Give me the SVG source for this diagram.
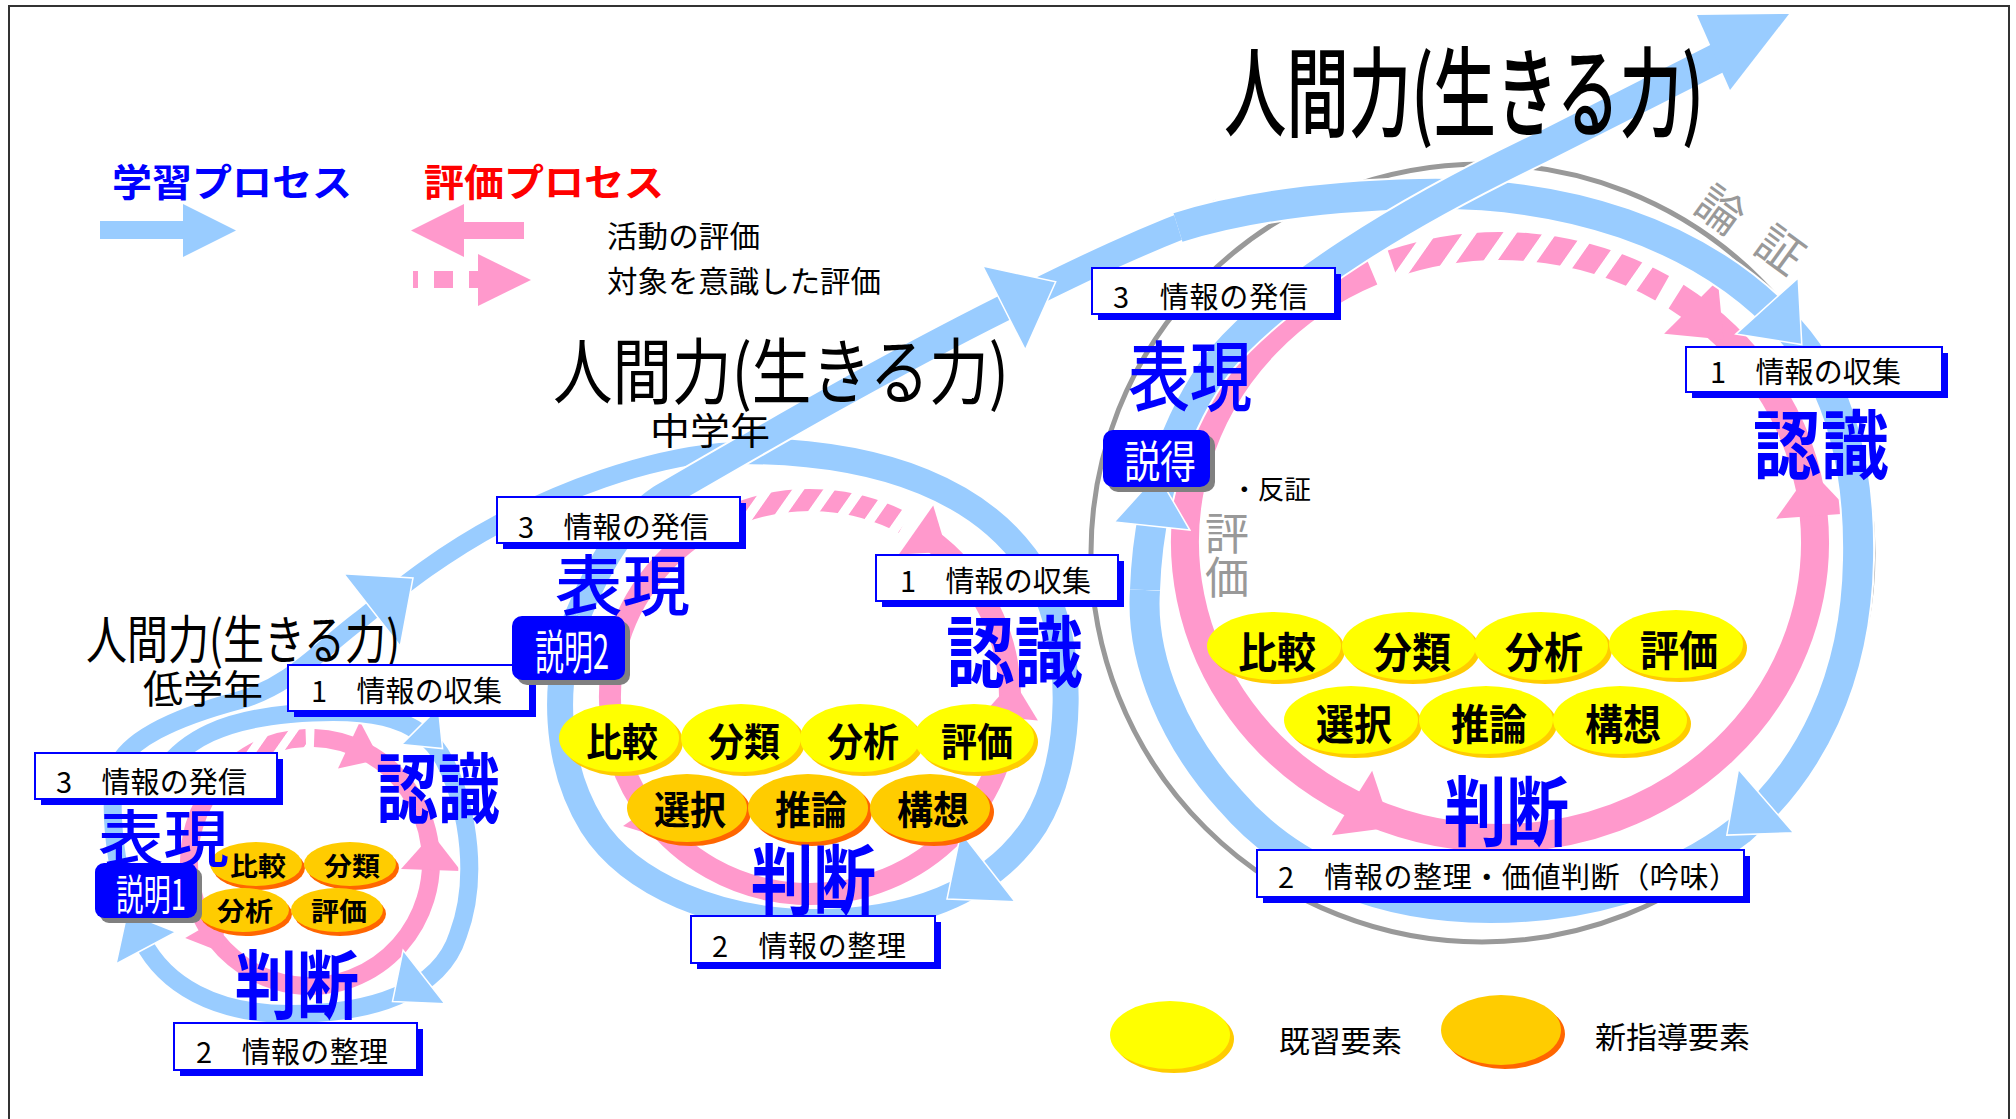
<svg xmlns="http://www.w3.org/2000/svg" width="2016" height="1119" viewBox="0 0 2016 1119">
<style>
text{font-family:"Noto Sans CJK JP","Noto Sans CJK SC",sans-serif;dominant-baseline:central}
.bw{fill:none;stroke:#fff;stroke-linejoin:round}
.bl{fill:none;stroke:#99CCFF;stroke-linejoin:round}
.pk{fill:none;stroke:#FF99CC}
.ahb{fill:#99CCFF;stroke:#fff;stroke-width:1.5;stroke-linejoin:miter}
.ahp{fill:#FF99CC}
.box{fill:#fff;stroke:#0000FF;stroke-width:2}
.sh{fill:#0000FF}
.bt{font-size:29px;fill:#000}
.lbl{fill:#0000FF}
.y1{fill:#FFFF00}.y2{fill:#FFCC00}.o1{fill:#FFCC00}.o2{fill:#FF6600}
.et{fill:#000;font-weight:600;text-anchor:middle}
.sb{fill:#0000FF}.sbs{fill:#808080}
.sbt{fill:#fff;text-anchor:middle}
.gr{fill:#999999}
</style>
<defs>
<polygon id="ah" points="0,-1 1,0 0,1"/>
<pattern id="stL" width="40" height="10" patternUnits="userSpaceOnUse" patternTransform="skewX(-35)"><rect width="26" height="10" fill="#FF99CC"/></pattern>
<pattern id="stM" width="31" height="10" patternUnits="userSpaceOnUse" patternTransform="skewX(-35)"><rect width="19" height="10" fill="#FF99CC"/></pattern>
<pattern id="stS" width="27" height="10" patternUnits="userSpaceOnUse" patternTransform="skewX(-35)"><rect width="17" height="10" fill="#FF99CC"/></pattern>
</defs>
<path d="M9 1119 V6 H2009 V1119" fill="none" stroke="#333" stroke-width="2"/>

<g id="connectors">
  <ellipse id="ring-grey" cx="1482" cy="553" rx="391" ry="389" fill="none" stroke="#999999" stroke-width="5"/>
  <g id="pink-small">
    <path class="pk" stroke-width="18" d="M 314.2 738.1 A 121 124 0 1 1 229.0 769.9"/>
    <path fill="none" stroke="url(#stS)" stroke-width="18" d="M 235.5 764.3 A 121 124 0 0 1 305.8 738.1"/>
    <use href="#ah" class="ahp" transform="translate(349 745) rotate(25) scale(34 26)"/>
    <use href="#ah" class="ahp" transform="translate(431 870) rotate(-88) scale(36 30)"/>
    <use href="#ah" class="ahp" transform="translate(206 926) rotate(60) scale(30 24)"/>
  </g>
  <g id="pink-middle">
    <path class="pk" stroke-width="22" d="M 921.8 533.7 A 200 197 0 1 1 719.2 521.5"/>
    <path fill="none" stroke="url(#stM)" stroke-width="22" d="M 741.6 511.9 A 200 197 0 0 1 903.9 523.1"/>
    <use href="#ah" class="ahp" transform="translate(916 530) rotate(35) scale(38 30)"/>
    <use href="#ah" class="ahp" transform="translate(1010 718) rotate(-85) scale(38 28)"/>
    <use href="#ah" class="ahp" transform="translate(646 810) rotate(55) scale(36 28)"/>
  </g>
  <g id="pink-large">
    <path class="pk" stroke-width="28" d="M 1676.1 296.6 A 315 296 0 1 1 1371.9 271.6"/>
    <path fill="none" stroke="url(#stL)" stroke-width="28" d="M 1392.3 263.8 A 315 296 0 0 1 1662.2 288.3"/>
    <use href="#ah" class="ahp" transform="translate(1691 307) rotate(45) scale(46 38)"/>
    <use href="#ah" class="ahp" transform="translate(1814 516) rotate(-94) scale(46 38)"/>
    <use href="#ah" class="ahp" transform="translate(1352 803) rotate(32) scale(46 38)"/>
  </g>
  <g id="blue-path">
    <path class="bw" stroke-width="22" d="M 160 775 C 185 738, 225 720, 290 714 C 360 708, 420 712, 445 762 C 470 812, 478 882, 458 935 C 440 992, 370 1014, 290 1014 C 215 1014, 165 985, 142 940 C 118 892, 108 820, 115 775"/>
    <path class="bl" stroke-width="18" d="M 160 775 C 185 738, 225 720, 290 714 C 360 708, 420 712, 445 762 C 470 812, 478 882, 458 935 C 440 992, 370 1014, 290 1014 C 215 1014, 165 985, 142 940 C 118 892, 108 820, 115 775"/>
    <path class="bw" stroke-width="22" d="M 115 775 C 120 740, 180 716, 240 700 C 290 686, 320 650, 360 620 C 400 588, 440 555, 500 523 C 560 492, 640 460, 720 452 C 760 449, 790 449, 810 450"/>
    <path class="bl" stroke-width="18" d="M 115 775 C 120 740, 180 716, 240 700 C 290 686, 320 650, 360 620 C 400 588, 440 555, 500 523 C 560 492, 640 460, 720 452 C 760 449, 790 449, 810 450"/>
    <path class="bw" stroke-width="30" d="M 740 451 C 880 451, 990 490, 1040 580 C 1075 645, 1075 760, 1035 825 C 990 895, 905 922, 815 922 C 720 922, 630 885, 592 825 C 555 765, 550 680, 578 615"/>
    <path class="bl" stroke-width="26" d="M 740 451 C 880 451, 990 490, 1040 580 C 1075 645, 1075 760, 1035 825 C 990 895, 905 922, 815 922 C 720 922, 630 885, 592 825 C 555 765, 550 680, 578 615"/>
    <path class="bw" stroke-width="30" d="M 578 615 C 598 568, 620 525, 660 498 C 760 440, 880 370, 1004 308 C 1080 270, 1150 236, 1220 212"/>
    <path class="bl" stroke-width="26" d="M 578 615 C 598 568, 620 525, 660 498 C 760 440, 880 370, 1004 308 C 1080 270, 1150 236, 1220 212"/>
    <path class="bw" stroke-width="34" d="M 1178 227.5 C 1250 205, 1330 196, 1420 194 C 1560 191, 1700 230, 1790 330 C 1840 385, 1860 470, 1858 560 C 1856 680, 1810 770, 1740 830 C 1670 885, 1580 908, 1490 908 C 1380 908, 1290 870, 1230 800 C 1175 740, 1140 660, 1145 590"/>
    <path class="bl" stroke-width="30" d="M 1178 227.5 C 1250 205, 1330 196, 1420 194 C 1560 191, 1700 230, 1790 330 C 1840 385, 1860 470, 1858 560 C 1856 680, 1810 770, 1740 830 C 1670 885, 1580 908, 1490 908 C 1380 908, 1290 870, 1230 800 C 1175 740, 1140 660, 1145 590"/>
    <path class="bw" stroke-width="34" d="M 1145 590 C 1148 500, 1175 420, 1220 360 C 1280 290, 1400 215, 1540 148 L 1718 58"/>
    <path class="bl" stroke-width="30" d="M 1145 590 C 1148 500, 1175 420, 1220 360 C 1280 290, 1400 215, 1540 148 L 1718 58"/>
    <polygon class="ahb" points="403.1,950.2 392.5,1001.6 444.9,1003.8"/>
    <polygon class="ahb" points="176,932 127.2,912.7 116,964"/>
    <polygon class="ahb" points="401.6,744.4 442.6,748.6 438.4,707.6"/>
    <polygon class="ahb" points="400.3,646.2 413,578 343.7,573.8"/>
    <polygon class="ahb" points="960.9,832.3 947,899 1015.1,901.7"/>
    <polygon class="ahb" points="1025.3,349.9 1055.7,281.7 982.7,266.1"/>
    <polygon class="ahb" points="1189.8,530 1157.4,474.3 1114.2,522"/>
    <polygon class="ahb" points="1735.8,334.1 1801.8,344.6 1798.2,277.9"/>
    <polygon class="ahb" points="1738.4,769.3 1726.8,835.1 1793.6,832.7"/>
    <polygon points="1697,15 1789,14 1730,90" fill="#99CCFF"/>
  </g>
</g>

<g id="elements-small">
  <g id="s-hikaku"><ellipse class="o2" cx="259" cy="868" rx="46" ry="22"/><ellipse class="o1" cx="256" cy="864" rx="46" ry="22"/><text class="et" x="258" y="864" font-size="26" textLength="56" lengthAdjust="spacingAndGlyphs">比較</text></g>
  <g id="s-bunrui"><ellipse class="o2" cx="353" cy="868" rx="46" ry="22"/><ellipse class="o1" cx="350" cy="864" rx="46" ry="22"/><text class="et" x="352" y="864" font-size="26" textLength="56" lengthAdjust="spacingAndGlyphs">分類</text></g>
  <g id="s-bunseki"><ellipse class="o2" cx="246" cy="914" rx="46" ry="22"/><ellipse class="o1" cx="243" cy="910" rx="46" ry="22"/><text class="et" x="245" y="909" font-size="26" textLength="56" lengthAdjust="spacingAndGlyphs">分析</text></g>
  <g id="s-hyoka"><ellipse class="o2" cx="340" cy="914" rx="46" ry="22"/><ellipse class="o1" cx="337" cy="910" rx="46" ry="22"/><text class="et" x="339" y="909" font-size="26" textLength="56" lengthAdjust="spacingAndGlyphs">評価</text></g>
</g>
<g id="elements-middle">
  <g id="m-hikaku"><ellipse class="y2" cx="623" cy="742" rx="60" ry="34"/><ellipse class="y1" cx="619" cy="738" rx="60" ry="34"/><text class="et" x="622" y="739" font-size="39" textLength="72" lengthAdjust="spacingAndGlyphs">比較</text></g>
  <g id="m-bunrui"><ellipse class="y2" cx="745" cy="742" rx="60" ry="34"/><ellipse class="y1" cx="741" cy="738" rx="60" ry="34"/><text class="et" x="744" y="739" font-size="39" textLength="72" lengthAdjust="spacingAndGlyphs">分類</text></g>
  <g id="m-bunseki"><ellipse class="y2" cx="864" cy="742" rx="60" ry="34"/><ellipse class="y1" cx="860" cy="738" rx="60" ry="34"/><text class="et" x="863" y="739" font-size="39" textLength="72" lengthAdjust="spacingAndGlyphs">分析</text></g>
  <g id="m-hyoka"><ellipse class="y2" cx="978" cy="742" rx="60" ry="34"/><ellipse class="y1" cx="974" cy="738" rx="60" ry="34"/><text class="et" x="977" y="739" font-size="39" textLength="72" lengthAdjust="spacingAndGlyphs">評価</text></g>
  <g id="m-sentaku"><ellipse class="o2" cx="691" cy="812" rx="60" ry="34"/><ellipse class="o1" cx="687" cy="808" rx="60" ry="34"/><text class="et" x="690" y="807" font-size="39" textLength="72" lengthAdjust="spacingAndGlyphs">選択</text></g>
  <g id="m-suiron"><ellipse class="o2" cx="812" cy="812" rx="60" ry="34"/><ellipse class="o1" cx="808" cy="808" rx="60" ry="34"/><text class="et" x="811" y="807" font-size="39" textLength="72" lengthAdjust="spacingAndGlyphs">推論</text></g>
  <g id="m-koso"><ellipse class="o2" cx="934" cy="812" rx="60" ry="34"/><ellipse class="o1" cx="930" cy="808" rx="60" ry="34"/><text class="et" x="933" y="807" font-size="39" textLength="72" lengthAdjust="spacingAndGlyphs">構想</text></g>
</g>
<g id="elements-large">
  <g id="l-hikaku"><ellipse class="y2" cx="1278" cy="650" rx="67" ry="34"/><ellipse class="y1" cx="1274" cy="646" rx="67" ry="34"/><text class="et" x="1277" y="649" font-size="42" textLength="78" lengthAdjust="spacingAndGlyphs">比較</text></g>
  <g id="l-bunrui"><ellipse class="y2" cx="1413" cy="650" rx="67" ry="34"/><ellipse class="y1" cx="1409" cy="646" rx="67" ry="34"/><text class="et" x="1412" y="649" font-size="42" textLength="78" lengthAdjust="spacingAndGlyphs">分類</text></g>
  <g id="l-bunseki"><ellipse class="y2" cx="1545" cy="650" rx="67" ry="34"/><ellipse class="y1" cx="1541" cy="646" rx="67" ry="34"/><text class="et" x="1544" y="649" font-size="42" textLength="78" lengthAdjust="spacingAndGlyphs">分析</text></g>
  <g id="l-hyoka"><ellipse class="y2" cx="1680" cy="648" rx="67" ry="34"/><ellipse class="y1" cx="1676" cy="644" rx="67" ry="34"/><text class="et" x="1679" y="647" font-size="42" textLength="78" lengthAdjust="spacingAndGlyphs">評価</text></g>
  <g id="l-sentaku"><ellipse class="y2" cx="1355" cy="724" rx="67" ry="34"/><ellipse class="y1" cx="1351" cy="720" rx="67" ry="34"/><text class="et" x="1354" y="721" font-size="42" textLength="76" lengthAdjust="spacingAndGlyphs">選択</text></g>
  <g id="l-suiron"><ellipse class="y2" cx="1490" cy="724" rx="67" ry="34"/><ellipse class="y1" cx="1486" cy="720" rx="67" ry="34"/><text class="et" x="1489" y="721" font-size="42" textLength="76" lengthAdjust="spacingAndGlyphs">推論</text></g>
  <g id="l-koso"><ellipse class="y2" cx="1624" cy="724" rx="67" ry="34"/><ellipse class="y1" cx="1620" cy="720" rx="67" ry="34"/><text class="et" x="1623" y="721" font-size="42" textLength="76" lengthAdjust="spacingAndGlyphs">構想</text></g>
</g>

<g id="stage-labels">
  <text class="lbl" x="98" y="835" font-size="62" font-weight="500" textLength="131" lengthAdjust="spacingAndGlyphs">表現</text>
  <text class="lbl" x="376" y="784" font-size="76" font-weight="bold" textLength="124" lengthAdjust="spacingAndGlyphs">認識</text>
  <text class="lbl" x="235" y="980" font-size="75" font-weight="bold" textLength="124" lengthAdjust="spacingAndGlyphs">判断</text>
  <text class="lbl" x="555" y="581" font-size="66" font-weight="500" textLength="135" lengthAdjust="spacingAndGlyphs">表現</text>
  <text class="lbl" x="946" y="647" font-size="77" font-weight="bold" textLength="137" lengthAdjust="spacingAndGlyphs">認識</text>
  <text class="lbl" x="751" y="875" font-size="77" font-weight="bold" textLength="125" lengthAdjust="spacingAndGlyphs">判断</text>
  <text class="lbl" x="1128" y="372" font-size="76" font-weight="500" textLength="124" lengthAdjust="spacingAndGlyphs">表現</text>
  <text class="lbl" x="1753" y="440" font-size="75" font-weight="bold" textLength="136" lengthAdjust="spacingAndGlyphs">認識</text>
  <text class="lbl" x="1444" y="807" font-size="76" font-weight="bold" textLength="125" lengthAdjust="spacingAndGlyphs">判断</text>
</g>

<g id="titles">
  <text x="1224" y="86" font-size="98" font-weight="500" textLength="480" lengthAdjust="spacingAndGlyphs">人間力(生きる力)</text>
  <text x="553" y="366" font-size="72" textLength="456" lengthAdjust="spacingAndGlyphs">人間力(生きる力)</text>
  <text x="650" y="429" font-size="37" textLength="120" lengthAdjust="spacingAndGlyphs">中学年</text>
  <text x="86" y="636" font-size="52" textLength="314" lengthAdjust="spacingAndGlyphs">人間力(生きる力)</text>
  <text x="143" y="686" font-size="39" textLength="120" lengthAdjust="spacingAndGlyphs">低学年</text>
</g>

<g id="annotations">
  <text x="1231" y="487" font-size="26" textLength="80" lengthAdjust="spacingAndGlyphs">・反証</text>
  <text class="gr" x="1227" y="511" font-size="44" writing-mode="vertical-rl">評価</text>
  <text class="gr" font-size="46" text-anchor="middle" transform="translate(1722 207) rotate(36)">論</text>
  <text class="gr" font-size="46" text-anchor="middle" transform="translate(1782 247) rotate(36)">証</text>
</g>

<g id="box-s3"><rect class="sh" x="41" y="759" width="242" height="46"/><rect class="box" x="35" y="753" width="242" height="46"/><text class="bt" x="56" y="780" textLength="191">3　情報の発信</text></g>
<g id="box-s1"><rect class="sh" x="294" y="671" width="242" height="46"/><rect class="box" x="288" y="665" width="242" height="46"/><text class="bt" x="311" y="689" textLength="191">1　情報の収集</text></g>
<g id="box-s2"><rect class="sh" x="180" y="1029" width="243" height="47"/><rect class="box" x="174" y="1023" width="243" height="47"/><text class="bt" x="196" y="1049.5" textLength="192">2　情報の整理</text></g>
<g id="box-m3"><rect class="sh" x="503" y="503" width="243" height="46"/><rect class="box" x="497" y="497" width="243" height="46"/><text class="bt" x="518" y="525" textLength="191">3　情報の発信</text></g>
<g id="box-m1"><rect class="sh" x="882" y="561" width="242" height="46"/><rect class="box" x="876" y="555" width="242" height="46"/><text class="bt" x="900" y="578.5" textLength="191">1　情報の収集</text></g>
<g id="box-m2"><rect class="sh" x="697" y="922" width="244" height="47"/><rect class="box" x="691" y="916" width="244" height="47"/><text class="bt" x="712" y="943.5" textLength="194">2　情報の整理</text></g>
<g id="box-l3"><rect class="sh" x="1098" y="274" width="243" height="46"/><rect class="box" x="1092" y="268" width="243" height="46"/><text class="bt" x="1113" y="295" textLength="195">3　情報の発信</text></g>
<g id="box-l1"><rect class="sh" x="1692" y="353" width="256" height="45"/><rect class="box" x="1686" y="347" width="256" height="45"/><text class="bt" x="1710" y="370" textLength="191">1　情報の収集</text></g>
<g id="box-l2"><rect class="sh" x="1263" y="856" width="487" height="47"/><rect class="box" x="1257" y="850" width="487" height="47"/><text class="bt" x="1278" y="875" textLength="460">2　情報の整理・価値判断（吟味）</text></g>

<g id="badge-setsumei1"><rect class="sbs" x="100" y="868" width="102" height="55" rx="9"/><rect class="sb" x="95" y="863" width="102" height="55" rx="9"/><text class="sbt" x="151" y="891" font-size="42" textLength="70" lengthAdjust="spacingAndGlyphs">説明1</text></g>
<g id="badge-setsumei2"><rect class="sbs" x="517" y="621" width="113" height="64" rx="10"/><rect class="sb" x="512" y="616" width="113" height="64" rx="10"/><text class="sbt" x="572" y="648" font-size="47" textLength="74" lengthAdjust="spacingAndGlyphs">説明2</text></g>
<g id="badge-settoku"><rect class="sbs" x="1108" y="435" width="107" height="57" rx="10"/><rect class="sb" x="1103" y="430" width="107" height="57" rx="10"/><text class="sbt" x="1160" y="459" font-size="44" textLength="72" lengthAdjust="spacingAndGlyphs">説得</text></g>

<g id="legend">
  <text x="112" y="179" font-size="38" font-weight="bold" fill="#0000FF" textLength="240" lengthAdjust="spacingAndGlyphs">学習プロセス</text>
  <text x="424" y="179" font-size="38" font-weight="bold" fill="#FF0000" textLength="240" lengthAdjust="spacingAndGlyphs">評価プロセス</text>
  <path d="M100 221 H183 V204 L236 230.5 L183 257 V239 H100 Z" fill="#99CCFF"/>
  <path d="M524 222 H464 V204 L411 230.5 L464 257 V239 H524 Z" fill="#FF99CC"/>
  <g fill="#FF99CC"><rect x="413" y="271" width="5" height="17"/><rect x="434" y="271" width="19" height="17"/><rect x="469" y="271" width="10" height="17"/><path d="M478 254 L531 280 L478 306 Z"/></g>
  <text x="607" y="234" font-size="30" textLength="153" lengthAdjust="spacingAndGlyphs">活動の評価</text>
  <text x="607" y="279" font-size="30" textLength="274" lengthAdjust="spacingAndGlyphs">対象を意識した評価</text>
  <g id="legend-known"><ellipse class="y2" cx="1174" cy="1039" rx="60" ry="34"/><ellipse class="y1" cx="1170" cy="1035" rx="60" ry="34"/></g>
  <text x="1279" y="1038.5" font-size="30" textLength="123" lengthAdjust="spacingAndGlyphs">既習要素</text>
  <g id="legend-new"><ellipse class="o2" cx="1505" cy="1034" rx="60" ry="35"/><ellipse class="o1" cx="1501" cy="1030" rx="60" ry="35"/></g>
  <text x="1595" y="1035" font-size="30" textLength="155" lengthAdjust="spacingAndGlyphs">新指導要素</text>
</g>
</svg>
